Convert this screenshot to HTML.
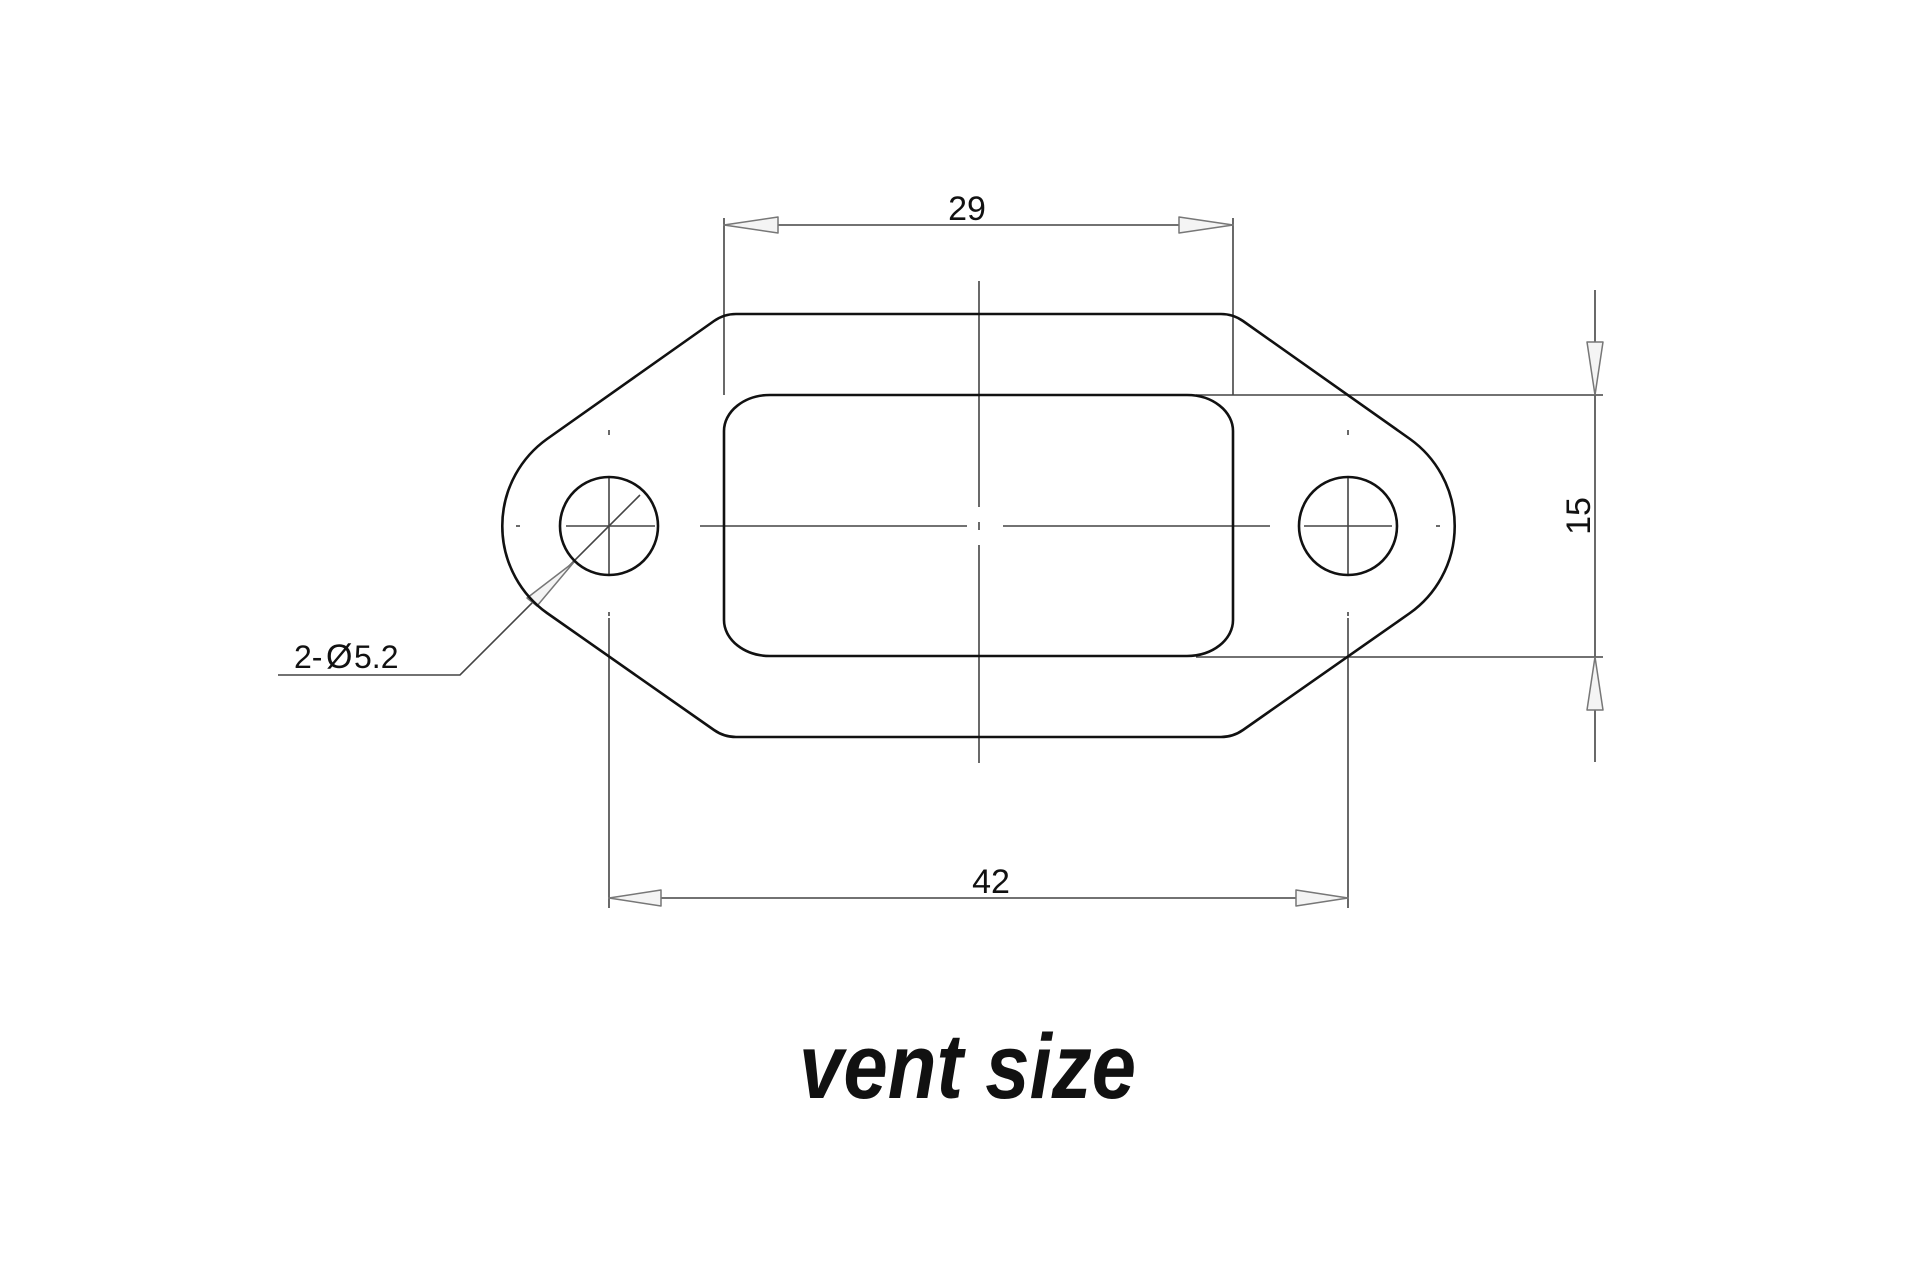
<!DOCTYPE html>
<html><head><meta charset="utf-8"><style>
html,body{margin:0;padding:0;background:#fff;}
svg{display:block;}
</style></head><body>
<svg width="1920" height="1280" viewBox="0 0 1920 1280" xmlns="http://www.w3.org/2000/svg">
<rect width="1920" height="1280" fill="#fff"/>
<g fill="none" stroke="#444" stroke-width="1.6">
  <!-- 29 dimension -->
  <line x1="724" y1="218" x2="724" y2="395"/>
  <line x1="1233" y1="218" x2="1233" y2="395"/>
  <line x1="724" y1="225" x2="1233" y2="225"/>
  <!-- 42 dimension -->
  <line x1="609" y1="618" x2="609" y2="908"/>
  <line x1="1348" y1="618" x2="1348" y2="908"/>
  <line x1="609" y1="898" x2="1348" y2="898"/>
  <!-- 15 dimension -->
  <line x1="1595" y1="290" x2="1595" y2="762"/>
  <line x1="1196" y1="395" x2="1603" y2="395"/>
  <line x1="1196" y1="657" x2="1603" y2="657"/>
  <!-- center lines -->
  <line x1="979" y1="281" x2="979" y2="507"/>
  <line x1="979" y1="522" x2="979" y2="530"/>
  <line x1="979" y1="545" x2="979" y2="763"/>
  <line x1="566" y1="526" x2="655" y2="526"/>
  <line x1="700" y1="526" x2="967" y2="526"/>
  <line x1="1003" y1="526" x2="1270" y2="526"/>
  <line x1="1304" y1="526" x2="1392" y2="526"/>
  <line x1="516" y1="526" x2="520" y2="526"/>
  <line x1="1436" y1="526" x2="1440" y2="526"/>
  <line x1="609" y1="476" x2="609" y2="575"/>
  <line x1="1348" y1="476" x2="1348" y2="575"/>
  <line x1="609" y1="430" x2="609" y2="435"/>
  <line x1="1348" y1="430" x2="1348" y2="435"/>
  <line x1="609" y1="612" x2="609" y2="616"/>
  <line x1="1348" y1="612" x2="1348" y2="616"/>
  <!-- leader -->
  <polyline points="640,495 460,675 278,675"/>
</g>
<!-- arrowheads -->
<g fill="#f4f4f4" stroke="#777" stroke-width="1.5" stroke-linejoin="round">
  <polygon points="724,225 778,217 778,233"/>
  <polygon points="1233,225 1179,217 1179,233"/>
  <polygon points="609,898 661,890 661,906"/>
  <polygon points="1348,898 1296,890 1296,906"/>
  <polygon points="1595,395 1587,342 1603,342"/>
  <polygon points="1595,657 1587,710 1603,710"/>
  <polygon points="574,562 527,598 537,606"/>
</g>
<!-- outlines -->
<g fill="none" stroke="#111" stroke-width="2.6" stroke-linejoin="round">
  <path d="M736,314 L1221,314 Q1233,314 1243,321 L1410,439 A107,107 0 0 1 1410,613 L1243,730 Q1233,737 1221,737 L736,737 Q724,737 714,730 L547,613 A107,107 0 0 1 547,439 L714,321 Q724,314 736,314 Z"/>
  <rect x="724" y="395" width="509" height="261" rx="46" ry="36"/>
  <circle cx="609" cy="526" r="49"/>
  <circle cx="1348" cy="526" r="49"/>
</g>
<g font-family="Liberation Sans, sans-serif" fill="#111">
  <text x="967" y="220" font-size="34" text-anchor="middle">29</text>
  <text x="991" y="893" font-size="34" text-anchor="middle">42</text>
  <text x="0" y="0" font-size="34" text-anchor="middle" transform="translate(1590,516) rotate(-90)">15</text>
  <text x="294" y="668" font-size="32">2-</text>
  <text x="326" y="668" font-size="34">Ø</text>
  <text x="354" y="668" font-size="32">5.2</text>
  <text x="799" y="1098" font-size="92" font-weight="bold" font-style="italic" textLength="337" lengthAdjust="spacingAndGlyphs">vent size</text>
</g>
</svg>
</body></html>
